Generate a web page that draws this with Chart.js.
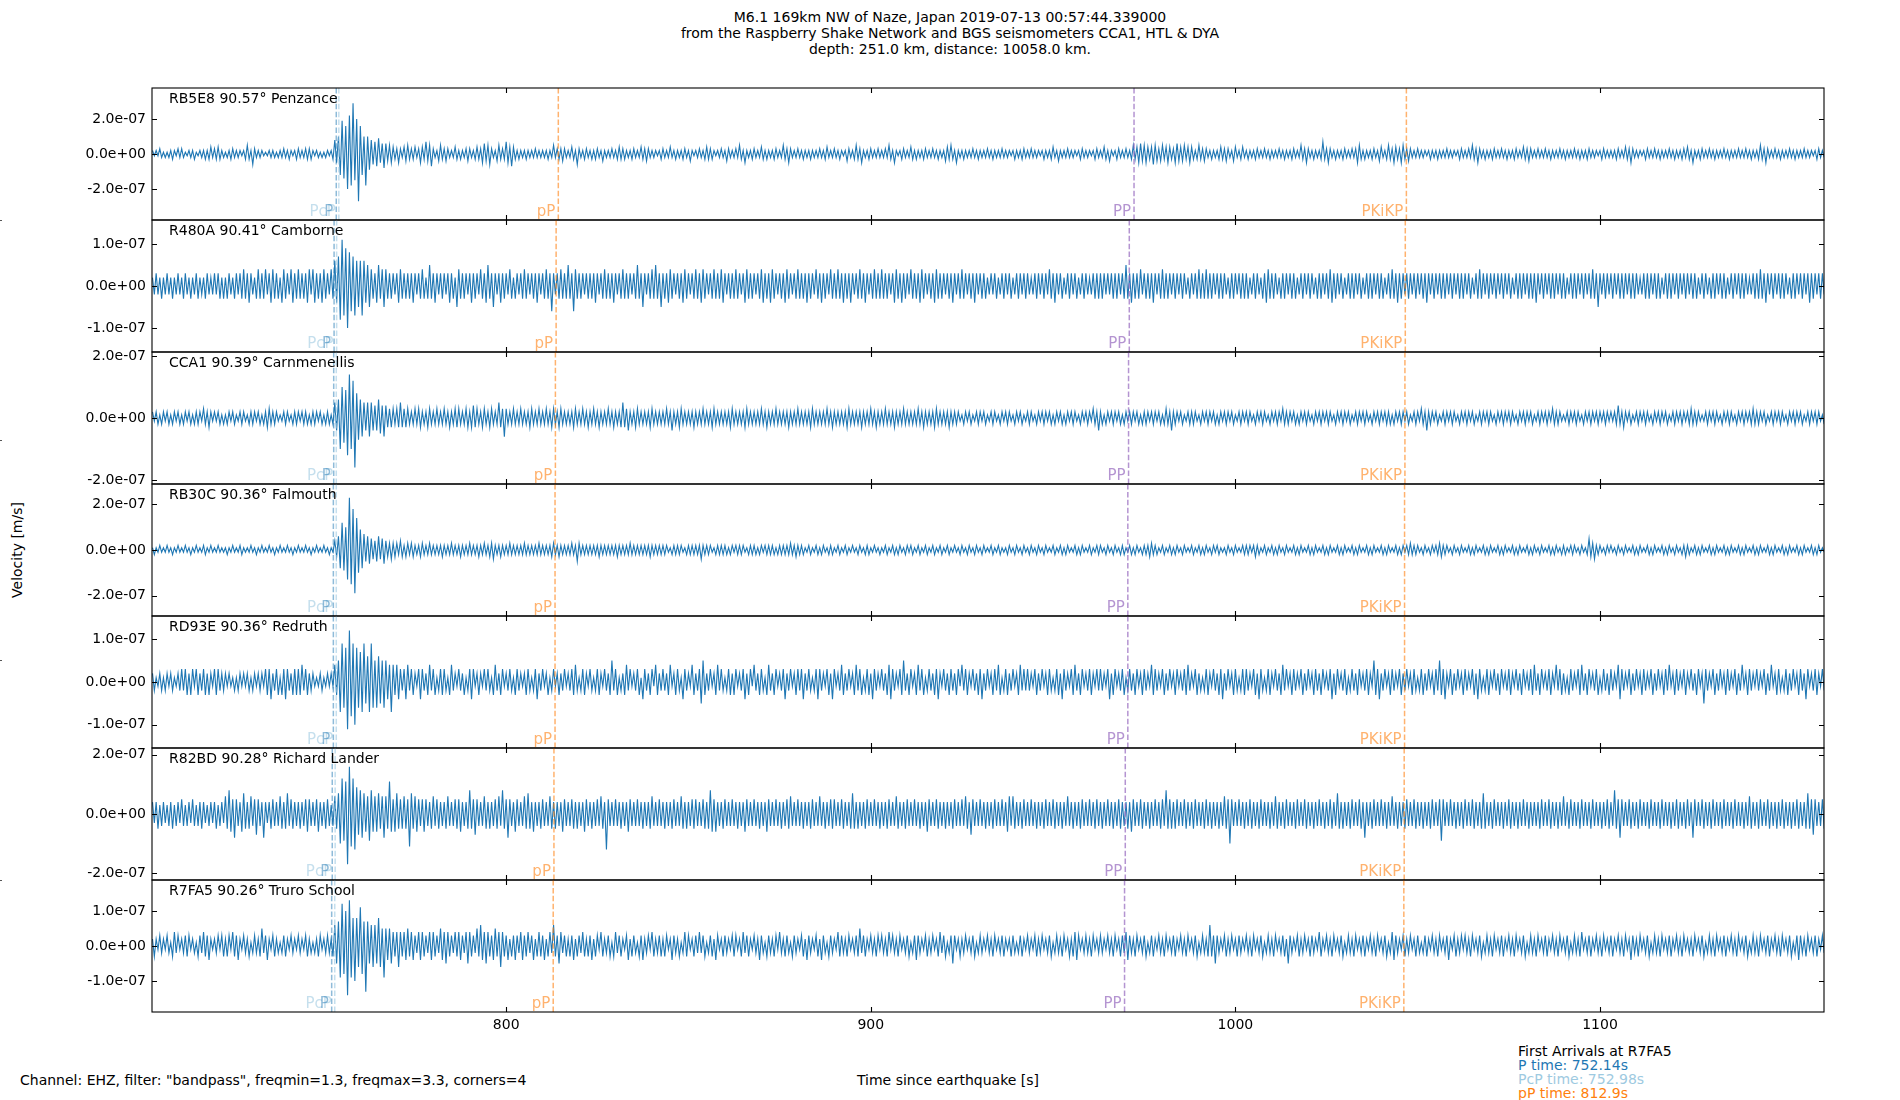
<!DOCTYPE html>
<html>
<head>
<meta charset="utf-8">
<script src="https://cdn.jsdelivr.net/npm/chart.js@4.4.1/dist/chart.umd.min.js"></script>
<style>
  body { margin: 0; background: #fff; }
  #fig { position: relative; width: 1900px; height: 1100px; overflow: hidden;
         font-family: "DejaVu Sans", sans-serif; font-size: 14px; color: #000; }
  #fig canvas { position: absolute; left: 0; }
  .txt { position: absolute; white-space: nowrap; line-height: 16px; }
  .edge { position: absolute; left: 0; width: 2px; height: 1px; background: #555; }
</style>
</head>
<body>
<div id="fig">
  <div class="txt" style="left:0;width:1900px;top:9px;text-align:center;">M6.1 169km NW of Naze, Japan 2019-07-13 00:57:44.339000<br>from the Raspberry Shake Network and BGS seismometers CCA1, HTL &amp; DYA<br>depth: 251.0 km, distance: 10058.0 km.</div>
  <div class="txt" style="left:17px;top:550px;transform:translate(-50%,-50%) rotate(-90deg);">Velocity [m/s]</div>
  <div class="txt" style="left:20px;top:1072px;">Channel: EHZ, filter: "bandpass", freqmin=1.3, freqmax=3.3, corners=4</div>
  <div class="txt" style="left:948px;top:1072px;transform:translateX(-50%);">Time since earthquake [s]</div>
  <div class="txt" style="left:1518px;top:1044px;line-height:14px;">
    <div>First Arrivals at R7FA5</div>
    <div style="color:#1f77b4">P time: 752.14s</div>
    <div style="color:#9ecae1">PcP time: 752.98s</div>
    <div style="color:#ff7f0e">pP time: 812.9s</div>
  </div>
  <div class="edge" style="top:220px"></div>
  <div class="edge" style="top:440px"></div>
  <div class="edge" style="top:660px"></div>
  <div class="edge" style="top:880px"></div>
</div>
<script>
// trace sampling: two values per second from 703 s after origin
const startTime = 703;
const delta = 0.5;

const stations = ['RB5E8 90.57° Penzance', 'R480A 90.41° Camborne', 'CCA1 90.39° Carnmenellis',
  'RB30C 90.36° Falmouth', 'RD93E 90.36° Redruth', 'R82BD 90.28° Richard Lander', 'R7FA5 90.26° Truro School'];

// velocities in units of 1e-8 m/s, one row = 20 s
const velRB5E8 = [
  2,-1,2,-1,3,-2,1,-2,1,-2,2,-3,2,-1,3,-2,3,-2,1,-1,2,-2,2,-3,1,-1,2,-2,2,-3,2,-3,4,-2,3,-3,4,-3,2,-2,
  1,-2,2,-3,3,-2,2,-2,2,-1,2,-3,5,-3,2,-6,3,-2,2,-2,2,-1,1,-1,2,-2,2,-2,1,-2,2,-2,3,-2,2,-3,2,-1,2,-3,
  3,-2,2,-2,3,-3,3,-3,2,-1,2,-2,1,-2,1,-2,2,-1,2,-3,8,-5,10,-12,19,-14,16,-20,22,-18,29,-15,20,-27,16,-12,10,-18,10,-9,
  8,-6,7,-7,9,-5,6,-8,6,-4,5,-5,4,-3,3,-5,3,-2,4,-4,5,-3,3,-3,4,-2,3,-5,4,-3,7,-4,5,-7,3,-2,2,-4,5,-3,
  3,-4,3,-2,2,-2,4,-3,2,-3,2,-2,3,-4,3,-2,2,-3,4,-3,3,-5,6,-4,5,-6,3,-2,2,-4,5,-3,3,-3,7,-5,4,-7,4,-3,
  2,-3,2,-2,2,-3,2,-2,2,-2,3,-2,2,-2,2,-2,2,-3,2,-2,5,-2,3,-3,3,-4,3,-2,2,-2,4,-3,2,-6,3,-2,2,-3,3,-2,
  2,-3,2,-3,3,-2,2,-4,2,-2,2,-2,3,-2,2,-3,4,-3,3,-3,2,-2,2,-3,3,-2,2,-2,4,-3,3,-4,3,-2,2,-2,2,-1,2,-3,
  3,-2,2,-2,4,-2,2,-3,2,-2,2,-3,3,-2,2,-4,2,-1,2,-2,3,-2,2,-3,4,-3,3,-3,2,-1,2,-2,3,-2,2,-4,3,-2,2,-2,
  3,-2,5,-3,2,-5,2,-2,2,-3,3,-2,2,-2,4,-3,2,-3,2,-2,2,-3,3,-2,2,-2,5,-3,3,-5,3,-2,2,-2,3,-2,2,-3,2,-2,
  2,-3,2,-2,2,-2,3,-2,2,-3,4,-2,2,-2,3,-2,2,-3,2,-1,2,-4,3,-2,2,-3,5,-3,3,-5,2,-2,2,-3,3,-2,2,-2,3,-2,
  2,-2,3,-2,5,-3,2,-5,2,-1,2,-3,3,-2,2,-2,4,-3,2,-3,2,-2,2,-3,3,-2,2,-2,3,-2,2,-3,2,-2,2,-4,4,-3,5,-3,
  2,-5,2,-2,2,-3,2,-2,2,-2,3,-2,2,-3,2,-2,2,-2,3,-2,2,-3,2,-2,2,-2,3,-2,2,-2,2,-1,2,-3,2,-2,2,-3,3,-2,
  2,-2,3,-2,2,-2,2,-1,2,-3,2,-2,2,-3,4,-2,2,-4,2,-2,2,-2,3,-2,2,-2,2,-1,2,-3,3,-2,2,-2,2,-1,2,-3,3,-2,
  2,-2,4,-3,2,-4,2,-1,2,-3,3,-2,2,-2,3,-2,2,-3,5,-3,4,-5,6,-4,5,-5,4,-3,4,-6,5,-4,3,-4,5,-3,4,-5,4,-3,
  3,-5,6,-4,4,-4,5,-3,4,-5,4,-3,2,-3,5,-3,3,-4,3,-2,2,-3,2,-2,2,-3,4,-3,3,-4,3,-2,2,-4,4,-2,2,-3,4,-2,
  2,-3,2,-2,2,-3,3,-2,2,-2,3,-2,2,-3,2,-2,2,-2,3,-2,2,-3,2,-2,2,-3,3,-2,2,-2,5,-3,3,-5,3,-2,2,-3,2,-2,
  2,-3,7,-3,3,-5,3,-2,2,-3,2,-2,2,-3,3,-2,2,-2,3,-2,3,-5,5,-3,2,-3,2,-2,2,-3,3,-2,2,-4,4,-2,2,-3,5,-3,
  3,-5,4,-3,3,-5,5,-3,3,-4,3,-2,2,-2,3,-2,2,-2,2,-1,2,-3,2,-2,2,-3,2,-2,2,-2,3,-2,2,-2,2,-1,2,-3,3,-2,
  2,-2,3,-2,5,-3,3,-5,3,-2,2,-3,2,-2,2,-3,3,-2,2,-2,3,-2,2,-3,2,-2,2,-3,3,-2,2,-2,4,-3,3,-4,3,-2,2,-2,
  3,-2,2,-2,3,-2,2,-3,2,-2,2,-2,3,-2,2,-3,2,-2,2,-2,3,-2,2,-3,2,-2,2,-3,3,-2,2,-2,2,-1,2,-3,3,-2,2,-2,
  2,-2,2,-3,3,-2,2,-2,4,-3,3,-5,3,-2,2,-2,2,-1,2,-3,3,-2,2,-2,3,-2,2,-3,2,-2,2,-2,3,-2,2,-3,2,-2,2,-3,
  3,-2,4,-3,2,-5,2,-2,2,-3,3,-2,2,-2,3,-2,2,-3,2,-2,2,-2,3,-2,2,-3,2,-2,2,-2,3,-2,2,-2,3,-2,2,-3,2,-2,
  2,-3,5,-3,3,-5,3,-2,2,-2,3,-2,2,-3,2,-2,2,-2,3,-2,2,-3,2,-2,2,-2,3,-2,2,-2,2,-1,2,-3,3,-2,2,-2,2,-2
];
const velR480A = [
  2,-2,3,-2,2,-3,2,-2,3,-2,2,-3,2,-2,3,-2,2,-3,3,-2,2,-3,2,-2,3,-3,2,-2,2,-3,3,-2,2,-2,3,-2,3,-3,2,-3,
  2,-3,3,-2,2,-3,3,-2,3,-3,4,-3,3,-4,3,-2,2,-3,4,-3,3,-3,4,-2,3,-4,4,-3,3,-3,2,-4,4,-3,3,-2,4,-4,3,-3,
  4,-3,3,-3,3,-4,4,-2,4,-4,3,-3,3,-4,4,-3,3,-2,4,-3,6,-4,7,-8,11,-7,9,-10,8,-6,7,-7,6,-5,6,-7,6,-4,5,-5,
  4,-3,3,-4,5,-3,4,-5,4,-3,3,-3,3,-2,3,-4,4,-3,3,-3,3,-3,3,-4,3,-2,3,-3,4,-3,2,-3,5,-3,3,-4,3,-2,3,-3,
  3,-2,3,-4,3,-3,2,-5,4,-3,3,-3,3,-2,3,-4,3,-3,3,-2,4,-3,3,-4,5,-3,3,-5,3,-2,3,-4,3,-3,3,-2,4,-3,2,-3,
  3,-2,3,-3,4,-3,3,-2,3,-3,3,-4,3,-2,3,-3,4,-3,3,-6,3,-2,3,-3,4,-3,3,-3,5,-3,3,-6,4,-3,3,-3,3,-2,3,-3,
  3,-3,3,-4,3,-2,3,-3,4,-3,3,-3,3,-4,3,-2,3,-3,4,-3,3,-3,3,-2,3,-3,5,-3,3,-5,3,-2,3,-3,4,-3,5,-3,3,-5,
  3,-3,3,-4,4,-3,3,-2,3,-3,3,-4,4,-3,3,-2,3,-3,4,-3,3,-4,4,-3,3,-2,3,-3,4,-3,3,-3,4,-4,3,-2,3,-3,3,-3,
  4,-3,3,-2,3,-4,4,-3,3,-3,3,-2,3,-3,4,-4,3,-3,3,-4,4,-3,3,-2,3,-3,3,-4,4,-3,3,-2,3,-3,4,-3,3,-3,3,-4,
  3,-3,3,-2,4,-3,3,-4,3,-3,3,-2,4,-3,3,-3,4,-3,3,-4,3,-3,3,-4,3,-2,3,-3,4,-3,3,-4,3,-2,3,-3,4,-3,3,-3,
  4,-3,3,-3,3,-2,3,-4,4,-3,3,-4,3,-3,3,-2,4,-3,3,-3,3,-4,4,-3,3,-2,3,-3,3,-4,4,-3,3,-3,3,-2,3,-3,3,-4,
  3,-2,3,-3,4,-3,3,-2,3,-3,3,-4,3,-2,3,-3,3,-3,2,-2,3,-2,3,-3,2,-2,3,-3,3,-2,3,-3,2,-2,3,-3,3,-2,3,-3,
  3,-2,2,-2,3,-3,3,-2,3,-3,3,-2,4,-3,3,-4,3,-2,3,-3,2,-2,3,-3,3,-2,3,-3,2,-2,3,-3,3,-2,2,-2,3,-3,3,-3,
  3,-3,3,-2,3,-2,3,-3,3,-3,3,-2,3,-3,5,-3,3,-4,3,-3,3,-3,4,-2,3,-3,3,-3,3,-4,3,-2,3,-3,4,-3,3,-3,3,-2,
  3,-3,3,-2,3,-3,3,-2,2,-3,3,-2,3,-3,4,-3,3,-3,4,-3,3,-3,3,-2,3,-3,3,-3,3,-2,2,-3,3,-3,3,-2,3,-3,3,-3,
  3,-3,2,-2,3,-3,3,-2,2,-3,3,-4,4,-3,3,-3,3,-2,2,-3,3,-3,3,-2,3,-3,3,-3,2,-2,3,-3,3,-2,3,-3,3,-2,2,-3,
  3,-3,3,-2,3,-3,4,-4,3,-3,3,-2,3,-3,2,-2,3,-3,3,-3,3,-2,3,-3,2,-2,3,-3,3,-3,3,-2,3,-3,3,-3,2,-2,3,-3,
  4,-3,3,-4,3,-3,3,-2,3,-3,3,-2,3,-3,3,-2,3,-3,3,-4,3,-2,3,-3,3,-2,3,-3,3,-3,3,-2,3,-3,3,-2,3,-3,3,-3,
  3,-2,3,-3,2,-2,3,-3,4,-3,3,-2,3,-3,3,-2,3,-3,3,-2,3,-3,3,-2,3,-3,2,-2,3,-3,3,-3,3,-2,3,-3,3,-3,3,-4,
  3,-2,3,-3,3,-2,3,-3,3,-3,3,-2,3,-3,3,-3,2,-2,3,-3,3,-3,3,-2,3,-3,3,-2,3,-3,4,-3,3,-5,3,-2,3,-3,3,-2,
  3,-3,3,-2,3,-3,3,-3,3,-2,3,-3,3,-3,3,-2,2,-2,3,-3,3,-3,3,-2,3,-3,3,-3,2,-2,3,-3,3,-3,3,-2,3,-3,3,-2,
  3,-3,3,-2,3,-3,3,-3,2,-2,3,-3,3,-2,2,-3,3,-3,3,-2,3,-3,3,-3,2,-2,3,-3,3,-2,3,-3,3,-3,3,-2,2,-2,3,-3,
  3,-3,4,-3,3,-4,3,-2,3,-3,3,-2,3,-3,3,-3,3,-2,2,-3,3,-3,3,-2,3,-3,3,-2,3,-4,3,-3,3,-2,3,-3,3,-2,2,-3
];
const velCCA1 = [
  2,-1,2,-2,1,-2,2,-1,2,-2,1,-2,2,-1,2,-2,1,-2,2,-1,2,-2,1,-2,2,-2,2,-1,3,-2,2,-3,2,-1,2,-1,2,-2,1,-2,
  1,-2,2,-1,2,-2,1,-1,2,-2,2,-1,1,-2,2,-2,2,-1,2,-2,1,-2,2,-3,3,-2,2,-2,2,-1,1,-1,2,-2,2,-1,1,-2,2,-2,
  2,-1,2,-2,2,-2,1,-2,2,-2,2,-1,2,-2,1,-2,2,-2,1,-2,5,-4,6,-10,10,-8,9,-12,14,-10,12,-16,8,-7,6,-6,5,-4,5,-6,
  5,-4,4,-4,6,-5,4,-6,4,-3,3,-3,3,-2,3,-3,5,-3,3,-3,3,-2,2,-2,3,-2,3,-3,2,-2,2,-3,3,-2,2,-2,3,-2,2,-2,
  3,-2,2,-3,2,-2,3,-3,3,-2,2,-2,3,-3,2,-3,4,-3,3,-2,2,-3,3,-2,2,-3,3,-2,2,-2,5,-3,3,-6,3,-2,2,-2,3,-2,
  2,-2,3,-2,2,-2,2,-3,3,-2,2,-2,3,-2,2,-2,3,-2,2,-3,3,-2,2,-3,3,-2,2,-2,2,-2,2,-3,3,-2,2,-2,3,-2,2,-3,
  2,-2,3,-2,2,-3,2,-2,2,-2,3,-2,2,-3,2,-2,2,-3,5,-3,3,-4,2,-2,2,-3,3,-2,2,-2,2,-2,2,-3,3,-2,2,-2,2,-2,
  2,-2,3,-2,2,-4,2,-2,2,-3,3,-2,2,-2,2,-2,2,-3,2,-2,2,-2,3,-2,2,-2,2,-3,3,-2,2,-2,2,-2,2,-2,2,-3,3,-2,
  2,-2,2,-2,2,-3,3,-2,2,-2,2,-2,2,-2,3,-2,2,-3,2,-2,2,-2,3,-2,2,-2,2,-2,2,-3,2,-2,2,-2,3,-2,2,-2,2,-2,
  2,-3,3,-2,2,-2,2,-2,2,-2,3,-2,2,-3,2,-2,2,-2,2,-2,2,-3,3,-2,2,-2,2,-2,2,-3,2,-2,2,-2,3,-2,2,-3,2,-2,
  2,-2,3,-2,2,-2,2,-3,2,-2,2,-2,3,-2,2,-2,2,-2,2,-2,3,-2,2,-3,2,-2,2,-2,2,-3,3,-2,2,-2,2,-2,2,-3,2,-2,
  2,-2,2,-1,1,-2,2,-1,2,-2,1,-1,2,-2,2,-1,2,-2,1,-1,2,-2,2,-1,1,-2,2,-1,2,-2,2,-1,1,-2,2,-1,2,-2,1,-1,
  2,-2,2,-1,1,-2,2,-1,2,-2,2,-1,2,-2,1,-2,2,-1,2,-2,1,-2,2,-1,2,-2,2,-1,1,-2,2,-1,2,-2,2,-1,3,-2,2,-4,
  2,-2,1,-2,2,-1,2,-2,2,-1,2,-2,1,-2,2,-1,2,-2,2,-1,2,-2,1,-2,2,-2,2,-1,2,-2,2,-1,2,-2,1,-2,3,-2,2,-4,
  2,-2,2,-1,2,-2,1,-1,2,-2,2,-2,2,-1,1,-2,2,-1,2,-2,2,-1,2,-2,1,-2,2,-1,2,-2,2,-1,2,-2,1,-1,2,-2,2,-1,
  2,-2,2,-1,1,-2,2,-1,2,-2,2,-1,1,-2,2,-1,2,-2,2,-1,3,-2,2,-2,2,-1,2,-2,1,-2,2,-1,2,-2,2,-1,1,-2,2,-1,
  2,-2,2,-1,2,-2,2,-1,1,-2,2,-1,2,-2,2,-1,2,-2,1,-1,2,-2,2,-1,2,-2,2,-1,1,-2,2,-1,2,-2,2,-1,2,-2,2,-2,
  1,-2,2,-1,2,-2,2,-1,2,-2,1,-1,2,-2,2,-1,3,-2,2,-4,2,-2,2,-1,2,-2,1,-1,2,-2,2,-1,2,-2,2,-1,1,-2,2,-1,
  2,-2,2,-1,2,-2,1,-1,2,-2,2,-1,2,-2,2,-1,1,-2,2,-1,2,-2,2,-1,2,-2,2,-1,1,-2,2,-1,2,-2,2,-1,2,-2,1,-1,
  2,-2,2,-1,2,-2,2,-1,3,-2,2,-2,2,-1,1,-1,2,-2,2,-1,2,-2,2,-1,1,-2,2,-1,2,-2,2,-1,2,-2,2,-1,2,-2,2,-1,
  2,-1,2,-2,4,-2,2,-3,2,-1,2,-2,1,-1,2,-2,2,-1,2,-2,2,-1,1,-2,2,-1,2,-2,2,-1,2,-2,1,-1,2,-2,2,-1,2,-2,
  2,-1,2,-2,3,-2,2,-2,2,-1,1,-1,2,-2,2,-1,2,-2,2,-1,1,-2,2,-1,2,-2,2,-1,1,-2,2,-1,2,-2,2,-1,2,-2,3,-2,
  2,-2,2,-1,2,-2,1,-1,2,-2,2,-1,2,-2,2,-1,1,-2,2,-1,2,-2,2,-1,2,-2,1,-1,2,-2,2,-1,2,-2,2,-1,1,-2,2,-1
];
const velRB30C = [
  1,-2,1,-1,2,-1,1,-1,2,-1,1,-2,1,-1,2,-1,1,-1,2,-1,1,-2,1,-1,2,-1,1,-1,2,-2,1,-1,2,-1,1,-1,2,-1,1,-1,
  1,-2,1,-1,2,-1,1,-1,2,-2,1,-1,1,-1,2,-1,1,-2,1,-1,2,-1,1,-1,2,-1,1,-2,1,-1,2,-1,1,-1,2,-1,1,-2,1,-1,
  2,-1,1,-1,2,-1,1,-2,1,-1,2,-1,1,-1,2,-1,1,-2,1,-1,4,-3,6,-8,12,-9,10,-13,23,-15,18,-19,14,-10,9,-8,7,-5,6,-6,
  5,-4,4,-5,6,-4,5,-6,4,-3,3,-4,3,-3,3,-2,4,-3,2,-3,3,-2,3,-3,2,-2,2,-3,3,-2,2,-2,3,-2,2,-2,2,-2,2,-3,
  2,-2,2,-2,3,-2,2,-2,2,-3,2,-2,2,-2,3,-2,2,-2,2,-3,2,-2,3,-2,2,-3,3,-4,2,-2,2,-3,2,-2,2,-2,3,-2,2,-2,
  2,-2,2,-2,3,-2,2,-2,2,-2,2,-2,3,-2,2,-2,2,-2,2,-3,3,-2,2,-3,2,-2,2,-2,2,-2,3,-2,2,-5,3,-2,2,-2,2,-2,
  2,-2,2,-2,2,-3,2,-2,2,-2,2,-2,2,-2,2,-3,2,-2,2,-2,2,-2,3,-2,2,-2,2,-2,2,-2,2,-2,2,-3,2,-2,2,-2,2,-2,
  2,-2,2,-1,1,-2,2,-2,2,-2,2,-1,1,-2,2,-2,2,-2,2,-2,2,-4,2,-2,2,-2,2,-1,1,-2,2,-2,2,-2,2,-2,1,-2,2,-1,
  2,-2,2,-2,2,-1,1,-2,2,-2,2,-2,1,-2,2,-1,2,-2,2,-2,2,-2,1,-2,2,-2,2,-2,2,-2,3,-2,2,-3,2,-2,2,-2,1,-1,
  2,-2,1,-1,2,-2,1,-2,2,-1,1,-2,2,-2,1,-1,2,-2,1,-1,2,-2,1,-1,2,-1,1,-2,2,-1,1,-2,2,-2,1,-1,2,-1,1,-2,
  1,-1,2,-2,1,-1,2,-2,1,-2,2,-1,1,-2,2,-1,2,-2,1,-1,2,-2,1,-1,2,-2,1,-1,2,-2,1,-1,2,-2,1,-1,2,-2,1,-1,
  2,-1,1,-2,2,-1,1,-2,2,-1,1,-2,2,-1,1,-2,2,-1,1,-1,2,-2,1,-1,2,-2,1,-1,1,-2,2,-1,1,-2,2,-1,1,-2,2,-1,
  1,-2,2,-1,1,-2,2,-1,1,-2,2,-1,1,-1,2,-2,1,-1,2,-2,1,-2,2,-1,1,-1,2,-2,1,-2,2,-1,1,-1,2,-2,1,-1,2,-2,
  2,-1,1,-2,2,-1,1,-2,2,-1,1,-2,2,-2,1,-1,2,-2,1,-2,2,-1,1,-2,2,-2,2,-3,3,-2,2,-2,1,-1,2,-2,1,-1,2,-2,
  1,-2,2,-1,1,-2,2,-1,1,-1,2,-2,1,-1,2,-2,1,-2,2,-1,1,-2,2,-1,2,-2,1,-1,1,-2,2,-1,1,-2,2,-1,1,-1,2,-2,
  2,-2,2,-1,2,-3,2,-2,1,-1,2,-2,1,-1,2,-2,1,-2,2,-1,1,-2,2,-1,1,-1,2,-2,1,-2,2,-1,1,-1,2,-2,1,-2,2,-1,
  1,-1,2,-2,1,-2,2,-1,1,-1,2,-2,1,-2,2,-1,1,-1,2,-2,1,-2,2,-1,1,-1,2,-2,1,-2,2,-1,1,-1,2,-2,1,-2,2,-1,
  1,-1,2,-2,1,-2,2,-1,2,-2,3,-2,2,-2,2,-1,1,-2,2,-1,1,-2,2,-1,2,-2,3,-3,2,-2,2,-1,1,-2,2,-1,1,-2,2,-1,
  1,-1,2,-2,1,-2,2,-1,1,-1,2,-2,1,-2,2,-1,1,-1,2,-2,1,-2,2,-1,1,-1,2,-2,1,-2,2,-1,1,-1,2,-2,1,-2,2,-1,
  1,-2,2,-1,1,-1,2,-2,1,-2,2,-1,1,-2,2,-2,1,-1,2,-2,2,-1,1,-2,2,-1,1,-2,5,-3,3,-4,2,-2,2,-1,1,-2,2,-1,
  2,-1,1,-2,2,-1,1,-2,2,-1,1,-1,2,-2,1,-2,2,-1,1,-1,2,-2,1,-2,2,-1,1,-1,2,-2,1,-2,2,-1,1,-2,2,-1,1,-2,
  2,-3,2,-2,1,-1,2,-2,1,-2,2,-1,1,-1,2,-2,1,-2,2,-1,1,-1,2,-2,1,-2,2,-1,1,-1,2,-2,1,-2,2,-1,1,-1,2,-2,
  1,-2,2,-1,1,-1,2,-2,1,-2,2,-1,1,-1,2,-2,1,-2,2,-1,1,-1,2,-2,1,-2,2,-1,1,-1,2,-2,1,-2,2,-1,1,-1,2,-2
];
const velRD93E = [
  2,-2,1,-1,2,-2,1,-2,2,-1,2,-2,1,-1,2,-2,3,-2,3,-3,2,-3,3,-1,3,-3,2,-2,3,-3,2,-3,2,-1,3,-3,3,-2,2,-2,
  2,-1,2,-1,1,-2,1,-2,2,-1,2,-1,2,-2,1,-2,2,-1,2,-2,2,-1,3,-3,3,-4,2,-2,3,-3,1,-3,3,-4,3,-2,2,-3,3,-3,
  3,-3,4,-2,3,-3,2,-2,2,-1,1,-1,2,-2,1,-1,2,-1,2,-1,4,-3,5,-7,9,-6,8,-11,12,-8,9,-10,8,-6,7,-7,9,-5,6,-7,
  9,-6,5,-6,6,-5,5,-6,5,-4,4,-7,4,-3,4,-4,3,-2,3,-4,4,-2,3,-3,2,-1,3,-4,3,-2,2,-3,4,-2,3,-3,1,-2,3,-3,
  3,-2,1,-3,4,-2,2,-1,3,-2,2,-3,1,-2,3,-4,3,-1,2,-3,2,-1,3,-2,3,-2,1,-3,4,-2,2,-3,3,-1,2,-2,3,-2,1,-3,
  3,-2,2,-1,2,-3,3,-2,1,-2,3,-4,2,-2,3,-1,2,-3,1,-2,3,-1,2,-3,2,-2,3,-1,2,-2,3,-3,4,-2,1,-2,3,-3,2,-1,
  3,-2,1,-2,3,-3,2,-1,3,-2,2,-3,5,-2,3,-3,1,-2,2,-3,4,-2,3,-1,2,-2,3,-3,1,-4,3,-2,2,-3,3,-1,4,-3,2,-2,
  3,-2,2,-3,4,-1,2,-3,3,-2,1,-4,3,-2,2,-1,4,-3,2,-2,3,-5,5,-3,2,-2,3,-1,2,-3,4,-2,3,-2,1,-2,3,-3,2,-3,
  3,-1,2,-2,3,-4,2,-3,3,-1,4,-2,2,-3,3,-2,1,-3,4,-2,2,-3,3,-1,2,-2,3,-4,2,-2,3,-1,2,-3,3,-2,3,-4,2,-2,
  3,-2,1,-2,3,-4,3,-2,2,-1,3,-3,2,-4,3,-1,2,-2,4,-3,2,-2,3,-1,2,-3,4,-2,3,-3,1,-2,3,-3,2,-4,3,-2,2,-1,
  3,-2,2,-3,4,-4,3,-2,2,-1,3,-3,5,-2,2,-3,3,-1,2,-3,4,-2,3,-3,1,-2,3,-2,2,-3,3,-4,2,-1,3,-2,2,-3,3,-2,
  2,-3,3,-1,4,-2,3,-3,2,-1,3,-2,2,-3,3,-4,2,-2,3,-1,2,-3,3,-2,4,-3,1,-2,3,-3,2,-2,3,-1,2,-3,4,-2,3,-2,
  3,-2,2,-1,3,-3,2,-2,3,-1,2,-3,3,-2,1,-2,3,-3,2,-4,3,-2,2,-1,3,-3,4,-2,2,-3,3,-1,2,-2,3,-3,2,-1,3,-2,
  3,-2,2,-1,3,-4,2,-3,3,-1,2,-2,3,-3,1,-2,3,-2,2,-3,3,-1,2,-3,3,-2,2,-1,4,-3,3,-2,2,-1,3,-3,2,-2,3,-1,
  2,-3,3,-1,2,-2,3,-3,4,-2,2,-1,3,-3,2,-2,1,-2,3,-3,2,-1,3,-2,2,-3,3,-4,2,-2,3,-1,2,-3,3,-2,1,-2,3,-3,
  3,-2,2,-1,3,-3,2,-4,3,-2,1,-2,3,-3,2,-1,3,-2,2,-3,4,-2,3,-1,2,-3,3,-2,2,-1,3,-3,2,-2,3,-1,2,-3,3,-2,
  2,-3,3,-1,2,-2,3,-4,2,-3,3,-1,2,-2,3,-3,1,-2,3,-2,2,-3,3,-1,2,-2,3,-3,2,-1,5,-3,3,-4,2,-2,3,-1,2,-3,
  3,-2,2,-1,3,-3,2,-2,3,-1,2,-3,3,-2,1,-2,3,-3,2,-2,3,-1,2,-3,3,-2,5,-3,3,-4,2,-1,3,-3,2,-2,3,-1,2,-3,
  3,-2,2,-1,3,-3,2,-4,3,-2,1,-2,3,-3,2,-1,3,-2,2,-3,3,-1,2,-2,3,-3,2,-1,3,-2,2,-3,3,-1,2,-2,3,-3,4,-2,
  2,-3,3,-1,2,-2,3,-3,2,-1,4,-2,3,-3,2,-2,1,-3,3,-2,2,-1,3,-3,4,-2,2,-3,3,-1,2,-2,3,-3,1,-2,3,-2,2,-3,
  3,-2,2,-1,4,-4,3,-2,2,-1,3,-3,2,-2,3,-1,2,-3,3,-2,2,-1,3,-3,2,-2,3,-1,2,-3,3,-2,4,-1,2,-3,3,-2,2,-1,
  3,-3,2,-1,3,-2,2,-3,3,-1,2,-5,3,-2,2,-1,3,-3,2,-2,3,-1,2,-3,3,-2,2,-1,3,-3,2,-2,4,-1,2,-3,3,-2,2,-1,
  3,-2,2,-1,3,-3,2,-2,4,-1,2,-3,3,-2,1,-2,3,-3,2,-2,3,-1,2,-3,3,-2,2,-4,3,-1,2,-2,3,-3,2,-1,3,-2,2,-3
];
const velR82BD = [
  4,-3,4,-5,3,-4,4,-3,3,-4,4,-5,3,-4,4,-3,5,-4,3,-4,4,-3,5,-4,3,-4,4,-5,4,-3,3,-4,4,-3,4,-5,3,-4,4,-3,
  6,-5,8,-6,5,-8,5,-4,4,-6,7,-5,4,-5,6,-4,5,-7,5,-4,4,-8,4,-3,4,-5,5,-4,4,-4,6,-5,4,-5,7,-4,5,-5,4,-4,
  4,-5,4,-4,5,-6,5,-4,4,-4,5,-6,4,-4,4,-5,5,-4,3,-4,6,-5,7,-10,12,-9,11,-17,16,-11,12,-12,9,-7,8,-8,7,-6,6,-9,
  8,-6,6,-6,7,-5,6,-8,6,-5,11,-6,5,-6,7,-5,5,-5,6,-5,5,-11,7,-5,6,-6,5,-4,5,-6,5,-4,4,-5,6,-4,5,-5,4,-4,
  4,-5,6,-4,4,-4,5,-5,5,-6,4,-4,4,-5,8,-5,5,-7,5,-4,4,-4,6,-5,4,-5,4,-4,5,-5,6,-4,8,-5,5,-8,5,-4,4,-6,
  5,-4,4,-4,6,-5,7,-5,4,-6,4,-4,4,-5,5,-4,4,-4,6,-5,4,-5,4,-4,4,-6,5,-4,4,-4,5,-5,4,-5,4,-4,4,-6,5,-4,
  4,-5,4,-4,5,-4,6,-5,4,-12,5,-4,4,-4,5,-4,4,-5,4,-4,4,-6,5,-4,4,-4,5,-4,4,-5,4,-4,4,-5,6,-4,4,-4,5,-4,
  4,-5,4,-4,4,-5,5,-4,4,-4,6,-5,4,-5,4,-4,5,-5,5,-4,4,-4,5,-5,4,-5,8,-6,5,-6,4,-4,4,-5,5,-4,4,-4,5,-4,
  4,-5,4,-4,4,-6,5,-4,4,-4,5,-4,4,-5,4,-4,4,-6,5,-4,4,-4,5,-4,4,-5,4,-4,5,-5,6,-4,4,-4,5,-4,4,-5,4,-4,
  4,-5,5,-4,4,-4,6,-4,4,-5,4,-4,5,-5,5,-4,4,-4,5,-5,4,-4,4,-5,7,-5,4,-5,4,-4,4,-5,5,-4,4,-4,5,-4,4,-5,
  4,-4,4,-5,5,-4,4,-4,6,-5,4,-4,4,-5,5,-4,4,-4,5,-4,4,-5,4,-4,4,-6,5,-4,4,-4,5,-5,4,-4,4,-5,4,-4,4,-5,
  5,-4,4,-4,5,-4,6,-5,4,-7,5,-4,4,-4,5,-4,4,-5,4,-4,4,-5,5,-4,4,-4,5,-4,4,-6,6,-4,6,-5,4,-4,4,-5,5,-4,
  4,-4,5,-4,4,-5,4,-4,4,-5,5,-4,4,-4,5,-5,4,-4,4,-5,4,-4,6,-4,4,-5,4,-4,4,-5,5,-4,4,-4,5,-4,4,-5,5,-4,
  4,-5,4,-4,5,-4,4,-5,4,-4,5,-5,4,-4,4,-5,4,-6,5,-4,4,-4,5,-5,4,-4,4,-5,4,-4,5,-4,4,-5,5,-4,8,-5,5,-5,
  4,-5,5,-4,4,-4,5,-5,4,-4,4,-5,5,-4,4,-4,4,-5,5,-4,4,-5,4,-4,4,-5,4,-4,6,-5,5,-10,5,-4,4,-4,5,-4,4,-5,
  4,-4,5,-5,4,-4,4,-5,5,-4,4,-4,4,-5,4,-4,6,-5,4,-4,4,-5,5,-4,4,-4,4,-5,5,-4,4,-4,5,-5,4,-4,4,-5,4,-4,
  5,-4,4,-5,4,-4,5,-5,4,-4,7,-5,4,-5,4,-4,4,-5,5,-4,4,-4,5,-5,4,-8,4,-4,4,-5,5,-4,4,-4,5,-4,4,-5,4,-4,
  6,-4,4,-5,4,-4,4,-5,5,-4,4,-4,5,-5,4,-4,4,-5,4,-4,4,-5,5,-4,4,-4,5,-9,5,-4,4,-4,5,-4,4,-5,4,-4,4,-5,
  5,-4,4,-4,5,-5,4,-4,4,-5,7,-5,4,-4,4,-5,5,-4,4,-4,4,-5,4,-4,5,-5,4,-4,4,-5,4,-4,5,-4,4,-5,4,-4,4,-4,
  4,-5,5,-4,4,-4,5,-5,4,-4,4,-5,4,-4,6,-4,4,-5,5,-4,4,-4,4,-5,5,-4,4,-4,4,-5,5,-4,4,-4,4,-5,4,-4,5,-5,
  4,-4,8,-5,5,-8,5,-4,4,-4,5,-5,4,-4,4,-5,5,-4,4,-4,4,-5,5,-4,4,-4,4,-5,5,-4,4,-4,4,-5,4,-4,5,-5,4,-4,
  4,-5,5,-4,4,-8,5,-4,4,-4,5,-5,4,-4,4,-5,5,-4,4,-4,4,-5,5,-4,4,-4,4,-5,5,-4,4,-4,4,-5,4,-4,6,-5,4,-4,
  4,-5,5,-4,4,-4,5,-5,4,-4,4,-5,4,-4,5,-5,4,-4,4,-5,4,-4,5,-5,4,-4,4,-5,7,-5,5,-7,5,-4,4,-4,5,-5,4,-4
];
const velR7FA5 = [
  2,-3,2,-1,3,-2,2,-1,3,-2,1,-3,4,-2,3,-1,2,-2,3,-3,3,-1,2,-2,1,-3,3,-2,4,-3,3,-4,2,-1,2,-2,3,-1,3,-3,
  2,-3,3,-1,4,-3,3,-4,2,-1,3,-2,2,-3,1,-2,3,-2,2,-3,5,-2,3,-4,2,-1,3,-3,2,-2,1,-2,3,-3,2,-1,3,-2,2,-1,
  3,-2,2,-1,3,-3,2,-2,1,-2,2,-3,3,-1,2,-2,3,-2,2,-3,6,-5,7,-9,12,-8,10,-14,13,-9,8,-10,8,-6,11,-8,7,-13,7,-5,
  6,-6,6,-5,8,-6,5,-9,5,-4,5,-5,4,-3,4,-6,4,-3,4,-4,5,-3,4,-4,3,-2,4,-4,4,-3,3,-2,4,-4,4,-3,3,-2,5,-4,
  4,-5,4,-3,3,-2,4,-3,4,-4,3,-2,4,-5,4,-3,3,-2,5,-3,6,-4,4,-5,4,-3,3,-4,5,-3,4,-6,4,-3,3,-4,2,-3,3,-4,
  3,-2,4,-4,3,-3,4,-2,3,-4,2,-3,4,-3,3,-4,2,-3,4,-2,6,-3,3,-5,4,-2,3,-3,2,-3,3,-4,2,-3,3,-2,4,-3,2,-3,
  3,-4,2,-3,3,-1,4,-3,2,-2,3,-3,1,-3,4,-2,3,-3,2,-1,3,-4,2,-3,3,-2,1,-3,3,-4,2,-2,3,-1,4,-3,2,-2,3,-3,
  2,-3,3,-1,2,-4,3,-2,2,-3,1,-2,4,-3,3,-1,2,-3,3,-2,4,-2,3,-3,1,-2,3,-3,2,-4,3,-1,2,-3,3,-2,2,-1,3,-3,
  3,-1,2,-3,4,-2,3,-3,2,-1,3,-2,2,-4,3,-2,1,-3,3,-2,2,-3,3,-1,4,-2,2,-3,3,-2,1,-3,3,-2,2,-1,3,-3,2,-4,
  3,-2,2,-1,3,-3,2,-4,3,-2,1,-3,3,-2,2,-1,4,-3,3,-2,2,-3,3,-1,2,-2,3,-3,5,-2,3,-3,2,-1,3,-2,2,-3,3,-1,
  3,-2,2,-3,4,-1,3,-2,2,-3,3,-1,2,-2,3,-3,1,-2,3,-4,3,-2,2,-1,3,-3,2,-2,3,-1,2,-3,4,-2,3,-3,1,-2,3,-5,
  3,-1,2,-3,2,-2,3,-1,2,-2,3,-3,1,-2,3,-2,2,-1,3,-2,2,-3,3,-1,2,-2,3,-3,2,-1,2,-3,3,-2,1,-2,3,-3,2,-1,
  3,-2,2,-1,3,-3,2,-2,3,-1,2,-2,3,-3,1,-2,3,-2,2,-3,3,-1,2,-3,2,-3,4,-4,3,-1,2,-2,3,-2,2,-3,3,-1,2,-2,
  3,-2,2,-1,3,-2,2,-3,3,-1,2,-3,3,-2,4,-4,3,-2,2,-3,3,-1,2,-2,3,-3,1,-2,3,-3,2,-1,3,-2,2,-3,3,-1,2,-2,
  3,-3,2,-1,3,-2,2,-3,3,-1,2,-2,3,-3,1,-2,3,-2,2,-3,6,-3,3,-5,3,-2,2,-1,3,-3,2,-2,3,-1,2,-3,3,-2,2,-1,
  3,-2,2,-3,3,-1,2,-2,3,-3,1,-2,3,-2,2,-3,3,-1,2,-2,3,-3,2,-5,3,-2,2,-1,3,-3,2,-2,3,-1,2,-3,3,-2,2,-1,
  4,-3,2,-1,3,-2,2,-3,3,-1,2,-2,3,-3,1,-2,3,-2,2,-3,3,-1,2,-2,3,-3,2,-1,3,-2,2,-3,3,-1,2,-2,3,-3,1,-2,
  4,-4,3,-2,2,-1,3,-3,2,-2,3,-1,2,-3,3,-2,1,-2,3,-3,2,-1,3,-2,2,-3,3,-1,2,-2,3,-4,2,-1,3,-3,2,-2,3,-1,
  3,-2,2,-3,3,-1,2,-2,3,-3,1,-2,3,-2,2,-3,3,-1,2,-2,3,-3,2,-1,3,-2,2,-3,3,-1,2,-2,3,-3,1,-2,3,-2,2,-3,
  3,-1,2,-2,3,-3,2,-1,3,-2,2,-3,3,-1,2,-2,3,-3,1,-2,3,-2,2,-3,4,-1,2,-2,3,-3,2,-1,3,-2,2,-3,3,-1,2,-2,
  3,-3,2,-1,3,-2,2,-3,3,-1,2,-4,3,-2,2,-3,3,-1,2,-2,3,-3,1,-2,3,-2,2,-3,3,-1,2,-2,3,-3,2,-1,3,-2,2,-3,
  3,-1,2,-2,2,-3,3,-1,2,-2,3,-3,1,-2,3,-2,2,-3,3,-1,2,-2,3,-3,2,-1,3,-2,2,-3,3,-1,2,-2,3,-3,1,-2,3,-2,
  2,-3,3,-1,2,-2,3,-3,2,-1,3,-2,2,-3,3,-1,2,-2,3,-3,1,-2,3,-4,3,-2,2,-3,3,-1,2,-2,3,-3,2,-1,3,-2,2,-3
];
const traces = [velRB5E8, velR480A, velCCA1, velRB30C, velRD93E, velR82BD, velR7FA5];

// y limits and ticks per panel, same units
const yLimits = [37.7, 15.7, 21.3, 29.0, 15.4, 22.3, 18.8];
const yTickValues = [[-20, 0, 20], [-10, 0, 10], [-20, 0, 20], [-20, 0, 20], [-10, 0, 10], [-20, 0, 20], [-10, 0, 10]];
const xTickValues = [800, 900, 1000, 1100];
const xMin = 702.86, xMax = 1161.44;

// predicted arrival times [s] per station
const timesP = [753.4, 752.8, 752.7, 752.6, 752.6, 752.3, 752.14];
const timesPcP = [754.1, 753.5, 753.4, 753.4, 753.4, 753.1, 752.98];
const timespP = [814.3, 813.7, 813.5, 813.4, 813.4, 813.1, 812.9];
const timesPP = [972.2, 970.9, 970.7, 970.5, 970.5, 969.8, 969.6];
const timesPKiKP = [1046.9, 1046.6, 1046.5, 1046.4, 1046.4, 1046.3, 1046.2];

const phases = [
  { name: 'PcP', times: timesPcP, color: 'rgba(158,202,225,0.6)' },
  { name: 'P', times: timesP, color: 'rgba(31,119,180,0.5)' },
  { name: 'pP', times: timespP, color: 'rgba(255,127,14,0.6)' },
  { name: 'PP', times: timesPP, color: 'rgba(148,103,189,0.7)' },
  { name: 'PKiKP', times: timesPKiKP, color: 'rgba(255,127,14,0.6)' }
];

function sci(v) {
  if (v === 0) return '0.0e+00';
  const parts = (v * 1e-8).toExponential(1).split('e');
  const n = parseInt(parts[1], 10);
  return parts[0] + 'e' + (n < 0 ? '-' : '+') + String(Math.abs(n)).padStart(2, '0');
}

const FONT = "14px 'DejaVu Sans', sans-serif";
const PHASE_FONT = "15px 'DejaVu Sans', sans-serif";

const panelDecor = {
  id: 'panelDecor',
  afterDatasetsDraw(chart, args, opts) {
    const ctx = chart.ctx, a = chart.chartArea;
    const xs = chart.scales.x, ys = chart.scales.y;
    const i = opts.index;
    ctx.save();
    // arrival lines + labels
    ctx.font = PHASE_FONT;
    phases.forEach(ph => {
      const px = xs.getPixelForValue(ph.times[i]);
      ctx.strokeStyle = ph.color;
      ctx.lineWidth = 1.5;
      ctx.setLineDash([5.5, 2.4]);
      ctx.beginPath();
      ctx.moveTo(px, a.top);
      ctx.lineTo(px, a.bottom);
      ctx.stroke();
      ctx.setLineDash([]);
      ctx.fillStyle = ph.color;
      ctx.textAlign = 'right';
      ctx.textBaseline = 'alphabetic';
      ctx.fillText(ph.name, px - 3, a.bottom - 4);
    });
    // frame
    ctx.strokeStyle = '#000';
    ctx.lineWidth = 1.1;
    ctx.strokeRect(a.left, a.top, a.right - a.left, a.bottom - a.top);
    // inward ticks on all four sides
    ctx.beginPath();
    xTickValues.forEach(v => {
      const px = Math.round(xs.getPixelForValue(v)) + 0.5;
      ctx.moveTo(px, a.top); ctx.lineTo(px, a.top + 5);
      ctx.moveTo(px, a.bottom); ctx.lineTo(px, a.bottom - 5);
    });
    yTickValues[i].forEach(v => {
      const py = Math.round(ys.getPixelForValue(v)) + 0.5;
      ctx.moveTo(a.left, py); ctx.lineTo(a.left + 5, py);
      ctx.moveTo(a.right, py); ctx.lineTo(a.right - 5, py);
    });
    ctx.stroke();
    // station label
    ctx.font = FONT;
    ctx.fillStyle = '#000';
    ctx.textAlign = 'left';
    ctx.textBaseline = 'middle';
    ctx.fillText(stations[i], a.left + 17, a.top + 11);
    ctx.restore();
  }
};

Chart.defaults.font.family = "'DejaVu Sans', sans-serif";
Chart.defaults.font.size = 14;
Chart.defaults.color = '#000';

const fig = document.getElementById('fig');
const panelTop = 88, panelHeight = 132, pad = 20;

traces.forEach((trace, i) => {
  const last = i === traces.length - 1;
  const h = panelHeight + pad + (last ? 40 : pad);
  const canvas = document.createElement('canvas');
  canvas.width = 1900;
  canvas.height = h;
  canvas.style.top = (panelTop + panelHeight * i - pad) + 'px';
  canvas.style.width = '1900px';
  canvas.style.height = h + 'px';
  fig.appendChild(canvas);

  new Chart(canvas, {
    type: 'line',
    data: {
      datasets: [{
        data: trace.map((v, k) => ({ x: startTime + k * delta, y: v })),
        borderColor: '#1f77b4',
        borderWidth: 1.1,
        pointRadius: 0,
        tension: 0
      }]
    },
    options: {
      responsive: false,
      animation: false,
      events: [],
      layout: { padding: { top: pad, bottom: last ? 10 : pad, left: 0, right: 76 } },
      plugins: { legend: { display: false }, tooltip: { enabled: false }, panelDecor: { index: i } },
      scales: {
        x: {
          type: 'linear', min: xMin, max: xMax,
          grid: { display: false, drawTicks: false },
          border: { display: false },
          ticks: { display: last, padding: 5, maxRotation: 0, callback: v => String(v) },
          afterBuildTicks: s => { s.ticks = xTickValues.map(v => ({ value: v })); },
          afterFit: s => { s.height = last ? 30 : 0; }
        },
        y: {
          min: -yLimits[i], max: yLimits[i],
          grid: { display: false, drawTicks: false },
          border: { display: false },
          ticks: { padding: 6, callback: v => sci(v) },
          afterBuildTicks: s => { s.ticks = yTickValues[i].map(v => ({ value: v })); },
          afterFit: s => { s.width = 152; }
        }
      }
    },
    plugins: [panelDecor]
  });
});
</script>
</body>
</html>
